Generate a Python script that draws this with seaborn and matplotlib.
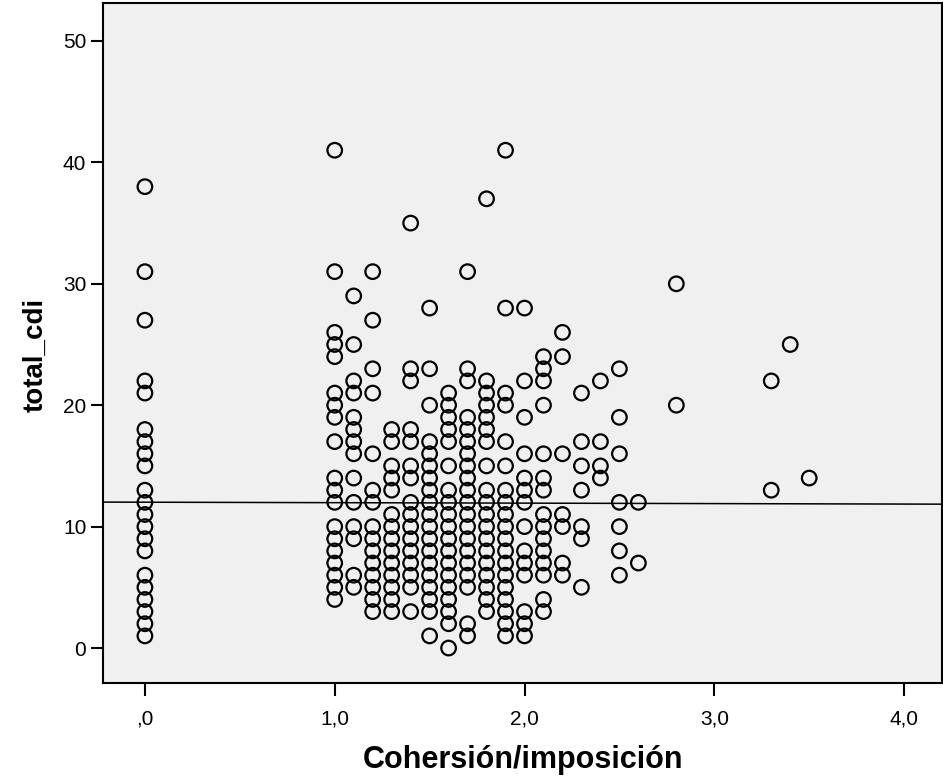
import numpy as np
import pandas as pd
import matplotlib
matplotlib.use("Agg")
import matplotlib.pyplot as plt
import seaborn as sns

# Observed total_cdi values for each Cohersión/imposición level
x_levels = [0.0, 1.0, 1.1, 1.2, 1.3, 1.4, 1.5, 1.6, 1.7, 1.8, 1.9,
            2.0, 2.1, 2.2, 2.3, 2.4, 2.5, 2.6, 2.8, 3.3, 3.4, 3.5]
y_00 = [38, 31, 27, 22, 21, 18, 17, 16, 15, 13, 12, 11, 10, 9, 8, 6, 5, 4, 3, 2, 1]
y_10 = [41, 31, 26, 25, 24, 21, 20, 19, 17, 14, 13, 12, 10, 9, 8, 7, 6, 5, 4]
y_11 = [29, 25, 22, 21, 19, 18, 17, 16, 14, 12, 10, 9, 6, 5]
y_12 = [31, 27, 23, 21, 16, 13, 12, 10, 9, 8, 7, 6, 5, 4, 3]
y_13 = [18, 17, 15, 14, 13, 11, 10, 9, 8, 7, 6, 5, 4, 3]
y_14 = [35, 23, 22, 18, 17, 15, 14, 12, 11, 10, 9, 8, 7, 6, 5, 3]
y_15 = [28, 23, 20, 17, 16, 15, 14, 13, 12, 11, 10, 9, 8, 7, 6, 5, 4, 3, 1]
y_16 = [21, 20, 19, 18, 17, 15, 13, 12, 11, 10, 9, 8, 7, 6, 5, 4, 3, 2, 0]
y_17 = [31, 23, 22, 19, 18, 17, 16, 15, 14, 13, 12, 11, 10, 9, 8, 7, 6, 5, 2, 1]
y_18 = [37, 22, 21, 20, 19, 18, 17, 15, 13, 12, 11, 10, 9, 8, 7, 6, 5, 4, 3]
y_19 = [41, 28, 21, 20, 17, 15, 13, 12, 11, 10, 9, 8, 7, 6, 5, 4, 3, 2, 1]
y_20 = [28, 22, 19, 16, 14, 13, 12, 10, 8, 7, 6, 3, 2, 1]
y_21 = [24, 23, 22, 20, 16, 14, 13, 11, 10, 9, 8, 7, 6, 4, 3]
y_22 = [26, 24, 16, 11, 10, 7, 6]
y_23 = [21, 17, 15, 13, 10, 9, 5]
y_24 = [22, 17, 15, 14]
y_25 = [23, 19, 16, 12, 10, 8, 6]
y_26 = [12, 7]
y_28 = [30, 20]
y_33 = [22, 13]
y_34 = [25]
y_35 = [14]
y_columns = [y_00, y_10, y_11, y_12, y_13, y_14, y_15, y_16, y_17, y_18, y_19,
             y_20, y_21, y_22, y_23, y_24, y_25, y_26, y_28, y_33, y_34, y_35]

# Fit line (total)
fit_x = [-0.221, 4.2]
fit_y = [12.02, 11.85]

x_ticks = [0, 1, 2, 3, 4]
x_ticklabels = [",0", "1,0", "2,0", "3,0", "4,0"]
y_ticks = [0, 10, 20, 30, 40, 50]

rows = []
for xv, ys in zip(x_levels, y_columns):
    for yv in ys:
        rows.append((xv, yv))
df = pd.DataFrame(rows, columns=["Cohersión/imposición", "total_cdi"])

sns.set_theme(style="ticks")
plt.rcParams["font.family"] = ["Liberation Sans", "DejaVu Sans"]
plt.rcParams["text.color"] = "black"
plt.rcParams["axes.labelcolor"] = "black"
plt.rcParams["xtick.color"] = "black"
plt.rcParams["ytick.color"] = "black"

fig = plt.figure(figsize=(9.43, 7.82), dpi=100)
ax = fig.add_axes([0.1092, 0.1266, 0.8898, 0.8696])
ax.set_facecolor("#F0F0F0")

sns.lineplot(x=fit_x, y=fit_y, ax=ax, color="black", linewidth=1.1, zorder=1)
sns.scatterplot(data=df, x="Cohersión/imposición", y="total_cdi", ax=ax,
                marker="o", s=110, facecolors="none", edgecolor="black",
                linewidth=1.6, zorder=3)

ax.set_xlim(-0.221, 4.2)
ax.set_ylim(-2.88, 53.13)
ax.set_xticks(x_ticks)
ax.set_xticklabels(x_ticklabels)
ax.set_yticks(y_ticks)

for sp in ax.spines.values():
    sp.set_visible(True)
    sp.set_color("black")
    sp.set_linewidth(1.5)

ax.tick_params(axis="both", direction="out", length=9, width=1.5,
               colors="black", labelcolor="black", labelsize=15, pad=3)
ax.tick_params(axis="x", pad=10)

ax.set_xlabel("Cohersión/imposición", fontsize=22, fontweight="bold", labelpad=12)
ax.set_ylabel("total_cdi", fontsize=20, fontweight="bold")
ax.yaxis.set_label_coords(-0.065, 0.482)

fig.savefig("out.png", dpi=100)
